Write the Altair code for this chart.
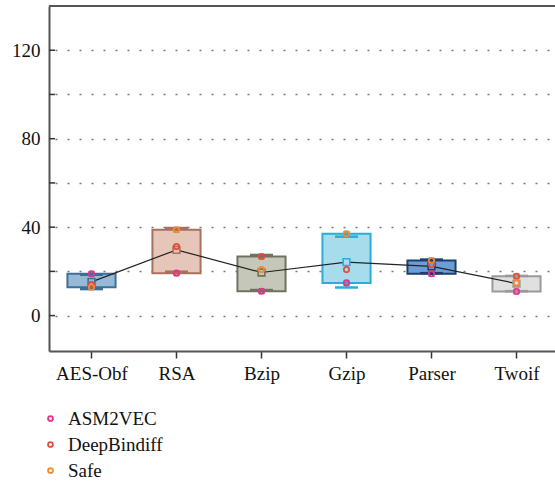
import altair as alt
import numpy as np
import pandas as pd

# Benchmarks and per-tool scores
categories = ["AES-Obf", "RSA", "Bzip", "Gzip", "Parser", "Twoif"]
methods = ["ASM2VEC", "DeepBindiff", "Safe"]
asm2vec = [18.9, 19.2, 11.0, 14.8, 18.9, 10.9]
deepbindiff = [14.0, 31.2, 26.7, 20.8, 23.0, 17.8]
safe = [12.8, 38.8, 20.8, 37.0, 24.9, 14.8]

# Box styling per benchmark
box_fill = ["#98b9d6", "#e5c6b9", "#c5c7b9", "#a6dcec", "#6c9dd6", "#e0e0e0"]
box_stroke = ["#3d6f97", "#a9705d", "#6f7262", "#2aaed8", "#1d3f6e", "#9a9a9a"]
method_colors = ["#e8338a", "#e84a3c", "#ef8a32"]

y_ticks = [0, 20, 40, 60, 80, 100, 120]

FONT = "Liberation Serif"
W, H = 506, 345

# Long table of individual scores
rows = []
for i, c in enumerate(categories):
    for m, vals in zip(methods, [asm2vec, deepbindiff, safe]):
        rows.append({"idx": i, "cat": c, "method": m, "value": vals[i]})
pts = pd.DataFrame(rows)

# Box statistics: 25-75 percentile box, mean, mean +/- 1 SD whiskers, min/max crosses
stats = []
for i, c in enumerate(categories):
    v = np.array([asm2vec[i], deepbindiff[i], safe[i]])
    m, s = v.mean(), v.std(ddof=1)
    stats.append({
        "idx": i, "cat": c,
        "q1": np.percentile(v, 25, method="weibull"),
        "q3": np.percentile(v, 75, method="weibull"),
        "mean": m, "lo": m - s, "hi": m + s,
        "vmin": v.min(), "vmax": v.max(),
        "fill": box_fill[i], "stroke": box_stroke[i],
    })
st = pd.DataFrame(stats)

xscale = alt.Scale(domain=[-0.5, 5.453], nice=False, zero=False)
yscale = alt.Scale(domain=[-16, 140], nice=False, zero=False)
label_expr = "[" + ",".join("'%s'" % c for c in categories) + "][datum.value]"

x_axis = alt.Axis(
    values=list(range(len(categories))), labelExpr=label_expr, title=None,
    grid=False, tickSize=7, tickColor="#333", tickWidth=1.5,
    domainColor="#555", domainWidth=2, labelFont=FONT, labelFontSize=19,
    labelColor="#111", labelPadding=6,
)
y_axis = alt.Axis(
    values=y_ticks, labelExpr="datum.value % 40 === 0 ? datum.label : ''",
    title=None, grid=True, gridDash=[2, 10], gridDashOffset=6,
    gridColor="#777", gridWidth=1.5, tickSize=0, domainColor="#555",
    domainWidth=2, labelFont=FONT, labelFontSize=19, labelColor="#111",
    labelPadding=9,
)

base = alt.Chart(st)

# Axes + dotted grid carried by an invisible layer
frame = alt.Chart(pd.DataFrame({"idx": [0], "value": [0]})).mark_point(opacity=0).encode(
    x=alt.X("idx:Q", scale=xscale, axis=x_axis),
    y=alt.Y("value:Q", scale=yscale, axis=y_axis),
)

top_border = alt.Chart(pd.DataFrame({"a": [0]})).mark_rule(color="#555", strokeWidth=2).encode(
    y=alt.value(0), x=alt.value(0), x2=alt.value(W)
)

inner_ticks = alt.Chart(pd.DataFrame({"t": y_ticks})).mark_rule(color="#333", strokeWidth=1.5).encode(
    y=alt.Y("t:Q", scale=yscale), x=alt.value(0), x2=alt.value(6)
)

whisk = base.mark_rule(strokeWidth=1.5).encode(
    x=alt.X("idx:Q", scale=xscale),
    y=alt.Y("lo:Q", scale=yscale), y2="hi:Q",
    color=alt.Color("stroke:N", scale=None),
)

boxes = base.transform_calculate(
    x0="datum.idx - 0.283", x1="datum.idx + 0.283"
).mark_rect(strokeWidth=2).encode(
    x=alt.X("x0:Q", scale=xscale), x2="x1:Q",
    y=alt.Y("q1:Q", scale=yscale), y2="q3:Q",
    fill=alt.Fill("fill:N", scale=None),
    stroke=alt.Stroke("stroke:N", scale=None),
)

caps_long = st.melt(id_vars=["idx", "stroke"], value_vars=["lo", "hi"], value_name="y")
caps = alt.Chart(caps_long).transform_calculate(
    x0="datum.idx - 0.135", x1="datum.idx + 0.135"
).mark_rule(strokeWidth=2.5).encode(
    x=alt.X("x0:Q", scale=xscale), x2="x1:Q",
    y=alt.Y("y:Q", scale=yscale),
    color=alt.Color("stroke:N", scale=None),
)

ext_long = st.melt(id_vars=["idx", "stroke"], value_vars=["vmin", "vmax"], value_name="y")
crosses = alt.Chart(ext_long).mark_point(
    shape="M-1,-1L1,1M-1,1L1,-1", size=30, strokeWidth=1.6, filled=False, opacity=1
).encode(
    x=alt.X("idx:Q", scale=xscale),
    y=alt.Y("y:Q", scale=yscale),
    color=alt.Color("stroke:N", scale=None),
)

mean_line = base.mark_line(color="#222", strokeWidth=1.2).encode(
    x=alt.X("idx:Q", scale=xscale),
    y=alt.Y("mean:Q", scale=yscale),
)

mean_sq = base.mark_point(shape="square", size=45, strokeWidth=1.6, filled=False, opacity=1).encode(
    x=alt.X("idx:Q", scale=xscale),
    y=alt.Y("mean:Q", scale=yscale),
    fill=alt.Fill("fill:N", scale=None),
    stroke=alt.Stroke("stroke:N", scale=None),
)

points = alt.Chart(pts).mark_point(
    shape="circle", size=28, strokeWidth=1.8, filled=False, opacity=1
).encode(
    x=alt.X("idx:Q", scale=xscale),
    y=alt.Y("value:Q", scale=yscale),
    color=alt.Color(
        "method:N",
        scale=alt.Scale(domain=methods, range=method_colors),
        legend=alt.Legend(
            title=None, orient="none", legendX=-8, legendY=403,
            labelFont=FONT, labelFontSize=19, labelColor="#111",
            symbolType="circle", symbolSize=24, symbolStrokeWidth=1.8,
            symbolOpacity=1, rowPadding=6, labelOffset=8,
        ),
    ),
)

chart = alt.layer(
    frame, inner_ticks, whisk, boxes, caps, mean_line, mean_sq, crosses, points, top_border
).properties(
    width=W, height=H,
    autosize=alt.AutoSizeParams(type="none"),
    padding={"left": 49, "top": 6, "right": 0, "bottom": 130},
).configure_view(stroke=None).configure(background="white")

chart.save("out.html", embed_options={"renderer": "svg", "actions": False})
